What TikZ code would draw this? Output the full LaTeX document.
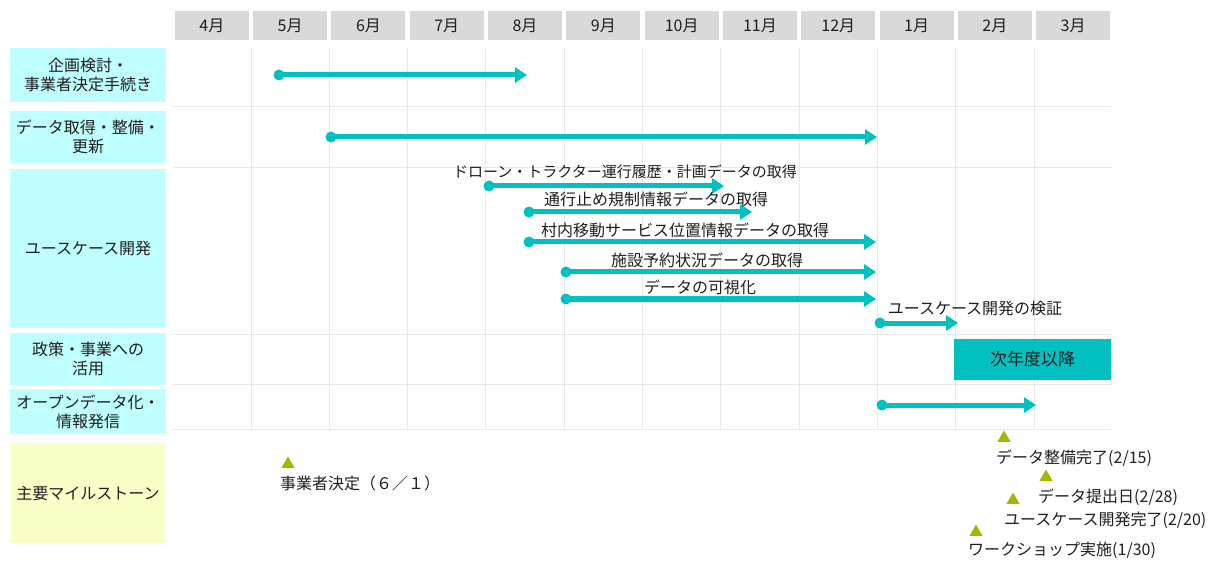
\documentclass[tikz,border=0pt]{standalone}
\usepackage{fontspec}
\setmainfont{Noto Sans CJK JP}
\usetikzlibrary{arrows.meta,shapes.geometric}
\definecolor{teal1}{RGB}{0,192,192}
\definecolor{hdr}{RGB}{217,217,217}
\definecolor{lcyan}{RGB}{192,255,255}
\definecolor{lyel}{RGB}{250,255,200}
\definecolor{gridc}{RGB}{232,232,232}
\definecolor{olive1}{RGB}{166,182,0}
\definecolor{txt}{RGB}{30,30,30}
\begin{document}
\begin{tikzpicture}[x=1pt,y=-1pt,
 month/.style={fill=hdr, minimum width=74pt, minimum height=29pt, inner sep=0pt, font=\fontsize{16}{19}\selectfont, text=txt},
 rowlabel/.style={fill=lcyan, minimum width=156pt, inner sep=0pt, align=center, font=\fontsize{16}{19}\selectfont, text=txt},
 gridline/.style={draw=gridc, line width=1pt},
 dot/.style={circle, fill=teal1, minimum size=11pt, inner sep=0pt},
 bar/.style={draw=teal1, line width=5pt, -{Triangle[length=12pt,width=15pt]}},
 alabel/.style={font=\fontsize{16}{19}\selectfont, text=txt, inner sep=0pt},
 mtri/.style={regular polygon, regular polygon sides=3, fill=olive1, minimum size=15pt, inner sep=0pt},
 mlabel/.style={anchor=west, font=\fontsize{16}{19}\selectfont, text=txt, inner sep=0pt},
]
\useasboundingbox (0,0) rectangle (1215,561);
% header
\foreach \m [count=\i from 0] in {4,5,6,7,8,9,10,11,12,1,2,3}
  \node[month] (m\i) at ({172.7+78.3*\i+39.15},25.5) {\m 月};
% grid
\foreach \k in {1,...,11}
  \draw[gridline] ({172.7+78.3*\k},48) -- ({172.7+78.3*\k},429);
\foreach \yy in {107,168,334,384,429}
  \draw[gridline] (173,\yy) -- (1111,\yy);
% row labels
\node[rowlabel, minimum height=54pt] (r1) at (88,75) {企画検討・\\事業者決定手続き};
\node[rowlabel, minimum height=52pt] (r2) at (88,137) {データ取得・整備・\\更新};
\node[rowlabel, minimum height=159pt] (r3) at (88,248.5) {ユースケース開発};
\node[rowlabel, minimum height=52pt] (r4) at (88,359) {政策・事業への\\活用};
\node[rowlabel, minimum height=45pt] (r5) at (88,411.5) {オープンデータ化・\\情報発信};
\node[rowlabel, fill=lyel, minimum height=100pt] (r6) at (88,493) {主要マイルストーン};
% bars
\node[dot] (s1) at (279,75) {}; \coordinate (e1) at (527,75);
\draw[bar] (s1.center) -- (e1);
\node[dot] (s2) at (331,137) {}; \coordinate (e2) at (877,137);
\draw[bar] (s2.center) -- (e2);
\node[dot] (a1) at (489,186) {}; \coordinate (b1) at (724,186);
\draw[bar] (a1.center) -- (b1);
\node[alabel, font=\fontsize{15}{18}\selectfont] (l1) at (625,172) {ドローン・トラクター運行履歴・計画データの取得};
\node[dot] (a2) at (529,212) {}; \coordinate (b2) at (752,212);
\draw[bar] (a2.center) -- (b2);
\node[alabel] (l2) at (656,199) {通行止め規制情報データの取得};
\node[dot] (a3) at (529,242) {}; \coordinate (b3) at (876,242);
\draw[bar] (a3.center) -- (b3);
\node[alabel] (l3) at (685,230) {村内移動サービス位置情報データの取得};
\node[dot] (a4) at (566,272) {}; \coordinate (b4) at (876,272);
\draw[bar] (a4.center) -- (b4);
\node[alabel] (l4) at (707,260) {施設予約状況データの取得};
\node[dot] (a5) at (566,299) {}; \coordinate (b5) at (876,299);
\draw[bar] (a5.center) -- (b5);
\node[alabel] (l5) at (700,287) {データの可視化};
\node[dot] (a6) at (880,323) {}; \coordinate (b6) at (958,323);
\draw[bar] (a6.center) -- (b6);
\node[alabel] (l6) at (975,308) {ユースケース開発の検証};
% next year box
\node[fill=teal1, minimum width=157pt, minimum height=41pt, inner sep=0pt, font=\fontsize{17}{20}\selectfont, text=txt] (nx) at (1032.5,359.5) {次年度以降};
% open data
\node[dot] (s5) at (882,405) {}; \coordinate (e5) at (1036,405);
\draw[bar] (s5.center) -- (e5);
% milestones
\node[mtri] (t1) at (288,464) {};
\node[mlabel] (ml1) at (280,483) {事業者決定（６／１）};
\node[mtri] (t2) at (1004,438) {};
\node[mlabel] (ml2) at (996,458) {データ整備完了(2/15)};
\node[mtri] (t3) at (1046,477) {};
\node[mlabel] (ml3) at (1038,497) {データ提出日(2/28)};
\node[mtri] (t4) at (1013,500) {};
\node[mlabel] (ml4) at (1004,520) {ユースケース開発完了(2/20)};
\node[mtri] (t5) at (976,532) {};
\node[mlabel] (ml5) at (968,550) {ワークショップ実施(1/30)};
\end{tikzpicture}
\end{document}
